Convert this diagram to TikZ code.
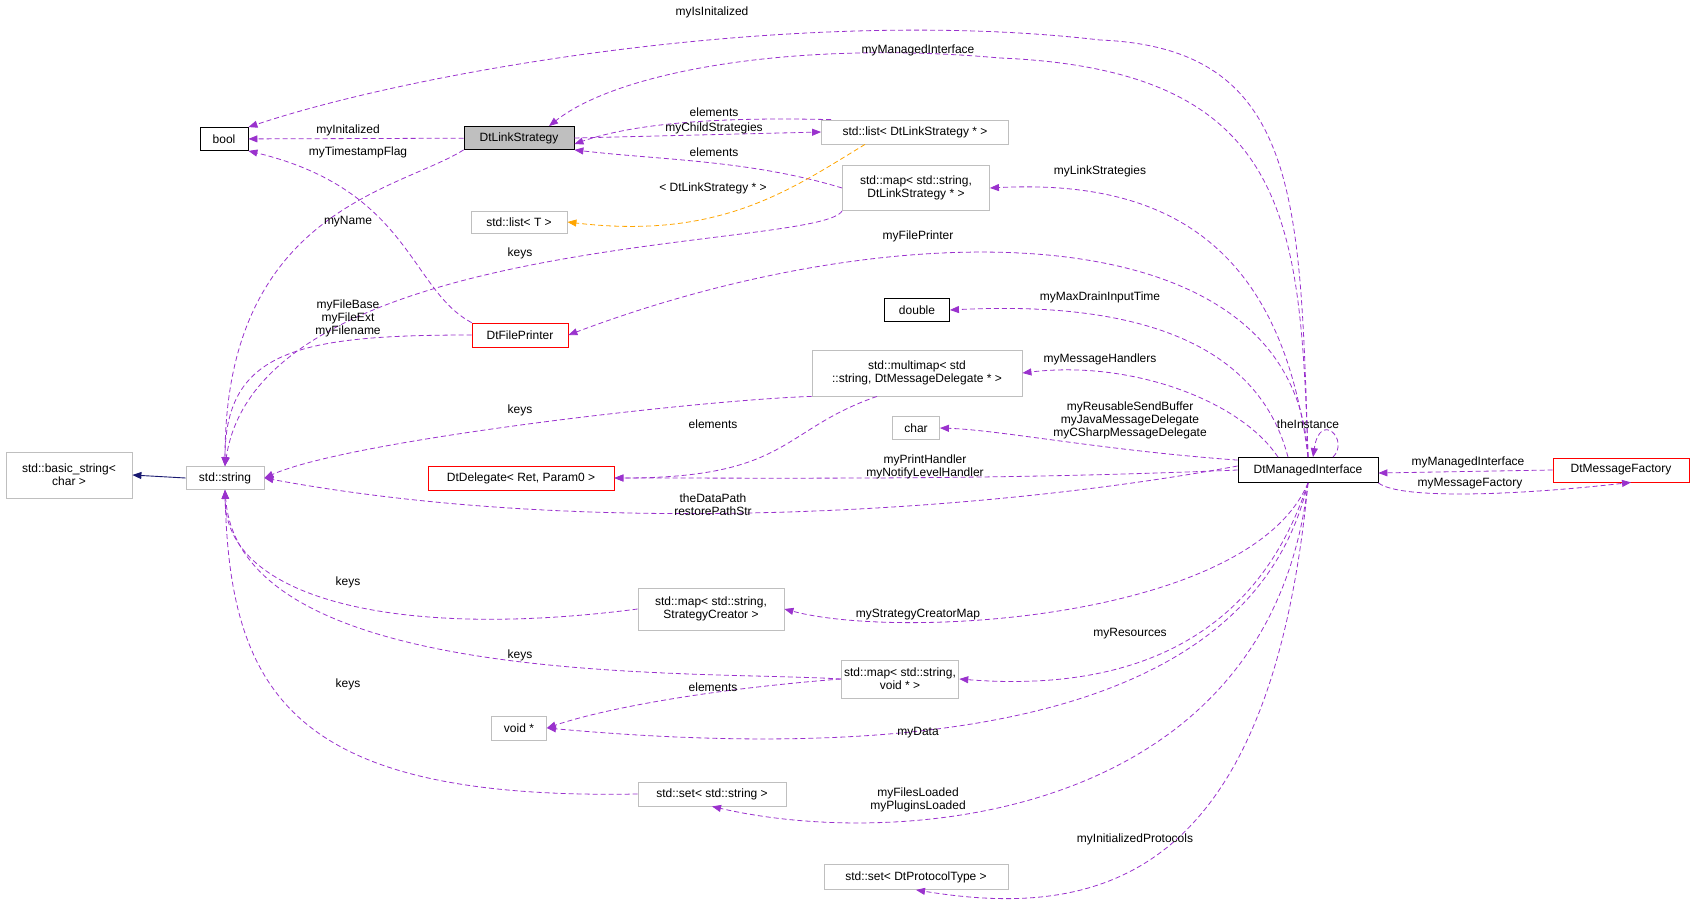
\documentclass[tikz,border=0pt]{standalone}
\usepackage{fontspec}
\setmainfont{Liberation Sans}
\usetikzlibrary{arrows.meta}
\definecolor{dpurple}{HTML}{9A32CD}
\definecolor{dorange}{HTML}{FFA500}
\definecolor{dnavy}{HTML}{191970}
\definecolor{dgray}{HTML}{BFBFBF}
\begin{document}
\begin{tikzpicture}[x=1pt,y=-1pt,
  box/.style={draw=dgray,line width=0.8pt,inner sep=3pt,font=\fontsize{12}{13}\selectfont,align=center,fill=white},
  bbox/.style={box,draw=black},
  rbox/.style={box,draw=red},
  dep/.style={draw=dpurple,dashed,dash pattern=on 5pt off 3pt,line width=0.8pt,-{Triangle[length=9pt,width=7pt]}},
  tmpl/.style={dep,draw=dorange},
  inh/.style={draw=dnavy,line width=0.9pt,-{Triangle[length=9pt,width=7pt]}},
  lab/.style={font=\fontsize{12}{13}\selectfont,align=center,inner sep=0pt}]
\useasboundingbox (0,0) rectangle (1693,902);
\node[bbox,minimum width=48pt,minimum height=23pt] (bool) at (224,139) {bool};
\node[bbox,fill=dgray,minimum width=110pt,minimum height=23pt] (dls) at (519,138) {DtLinkStrategy};
\node[box,minimum width=187pt,minimum height=24pt] (lst) at (915,132) {std::list< DtLinkStrategy * >};
\node[box,minimum width=147pt,minimum height=45pt] (mapls) at (916,188) {std::map< std::string,\\DtLinkStrategy * >};
\node[box,minimum width=96pt,minimum height=22pt] (listT) at (519,222) {std::list< T >};
\node[rbox,minimum width=96pt,minimum height=24pt] (fp) at (520,335) {DtFilePrinter};
\node[bbox,minimum width=65pt,minimum height=23pt] (dbl) at (917,310) {double};
\node[box,minimum width=210pt,minimum height=46pt] (mm) at (917,373) {std::multimap< std\\::string, DtMessageDelegate * >};
\node[box,minimum width=47pt,minimum height=23pt] (chr) at (916,428) {char};
\node[rbox,minimum width=186pt,minimum height=24pt] (dd) at (521,478) {DtDelegate< Ret, Param0 >};
\node[box,minimum width=126pt,minimum height=46pt] (bs) at (69,475) {std::basic\_string<\\char >};
\node[box,minimum width=78pt,minimum height=23pt] (str) at (225,478) {std::string};
\node[bbox,minimum width=140pt,minimum height=25pt] (mi) at (1308,470) {DtManagedInterface};
\node[rbox,minimum width=136pt,minimum height=24pt] (mf) at (1621,470) {DtMessageFactory};
\node[box,minimum width=146pt,minimum height=42pt] (smc) at (711,609) {std::map< std::string,\\StrategyCreator >};
\node[box,minimum width=117pt,minimum height=38pt] (mv) at (900,679) {std::map< std::string,\\void * >};
\node[box,minimum width=55pt,minimum height=24pt] (vd) at (519,728) {void *};
\node[box,minimum width=148pt,minimum height=24pt] (ss) at (712,794) {std::set< std::string >};
\node[box,minimum width=184pt,minimum height=25pt] (sdp) at (916,877) {std::set< DtProtocolType >};

\coordinate (c1) at (1100,40);
\draw[dep] (mi.north) .. controls (1300,200) and (1300,48) .. (c1) .. controls (800,5) and (420,70) .. (bool.north east);
\coordinate (c2) at (1000,58);
\draw[dep] (mi.north) .. controls (1300,220) and (1290,70) .. (c2) .. controls (800,40) and (620,70) .. ([xshift=30pt]dls.north);
\draw[dep] (dls) -- (bool);
\draw[dep] ([xshift=10pt]lst.north west) .. controls (760,118) and (650,118) .. ([yshift=-6pt]dls.east);
\draw[dep] (dls.east) -- (lst.west);
\draw[dep] (mapls.west) .. controls (750,160) and (660,160) .. (dls.south east);
\draw[dep] (fp.north west) .. controls (410,290) and (410,190) .. (bool.south east);
\draw[tmpl] ([xshift=-50pt]lst.south) .. controls (790,190) and (720,240) .. (listT.east);
\draw[dep] (dls.south west) .. controls (400,190) and (225,210) .. (str.north);
\draw[dep] (mapls.south west) .. controls (820,250) and (260,230) .. (str.north);
\draw[dep] (mi.north) .. controls (1280,230) and (1150,180) .. (mapls.east);
\draw[dep] (mi.north) .. controls (1295,210) and (900,210) .. (fp.east);
\draw[dep] (fp.west) .. controls (300,335) and (225,350) .. (str.north);
\draw[dep] ([xshift=-20pt]mi.north) .. controls (1260,350) and (1150,300) .. (dbl.east);
\draw[dep] ([xshift=-30pt]mi.north) .. controls (1240,400) and (1130,360) .. (mm.east);
\draw[dep] (mm.south west) .. controls (700,400) and (350,440) .. (str.east);
\draw[dep] ([xshift=-40pt]mm.south) .. controls (780,430) and (790,478) .. (dd.east);
\draw[dep] ([yshift=-3pt]mi.north west) .. controls (1100,450) and (1000,430) .. (chr.east);
\draw[dep] ([xshift=25pt]mi.north) .. controls (1350,440) and (1320,410) .. ([xshift=5pt]mi.north);
\draw[dep] (mi.west) .. controls (1000,480) and (800,478) .. (dd.east);
\draw[dep] ([yshift=4pt]mi.west) .. controls (1000,510) and (600,540) .. (str.east);
\draw[dep] (mf.west) -- ([yshift=-3pt]mi.east);
\draw[dep] (mi.south east) .. controls (1400,500) and (1520,495) .. ([xshift=10pt]mf.south);
\draw[inh] (str.west) -- (bs.east);
\draw[dep] (smc.west) .. controls (400,640) and (225,600) .. (str.south);
\draw[dep] (mi.south) .. controls (1250,620) and (900,640) .. (smc.east);
\draw[dep] (mv.west) .. controls (700,670) and (240,690) .. (str.south);
\draw[dep] (mi.south) .. controls (1250,660) and (1100,690) .. (mv.east);
\draw[dep] (mv.west) .. controls (700,690) and (600,710) .. (vd.east);
\draw[dep] (mi.south) .. controls (1250,730) and (900,760) .. (vd.east);
\draw[dep] (ss.west) .. controls (300,800) and (230,700) .. (str.south);
\draw[dep] (mi.south) .. controls (1270,820) and (900,850) .. (ss.south);
\draw[dep] (mi.south) .. controls (1270,880) and (1100,920) .. (sdp.south);

\node[lab] (l1) at (712,12) {myIsInitalized};
\node[lab] (l2) at (918,50) {myManagedInterface};
\node[lab] (l3) at (348,130) {myInitalized};
\node[lab] (l4) at (714,112) {elements};
\node[lab] (l5) at (714,128) {myChildStrategies};
\node[lab] (l6) at (714,152) {elements};
\node[lab] (l7) at (358,152) {myTimestampFlag};
\node[lab] (l8) at (713,188) {< DtLinkStrategy * >};
\node[lab] (l9) at (348,222) {myName};
\node[lab] (l10) at (520,253) {keys};
\node[lab] (l11) at (1100,171) {myLinkStrategies};
\node[lab] (l12) at (918,236) {myFilePrinter};
\node[lab] (l13) at (348,318) {myFileBase\\myFileExt\\myFilename};
\node[lab] (l14) at (1100,297) {myMaxDrainInputTime};
\node[lab] (l15) at (1100,359) {myMessageHandlers};
\node[lab] (l16) at (520,410) {keys};
\node[lab] (l17) at (713,424) {elements};
\node[lab] (l18) at (1130,420) {myReusableSendBuffer\\myJavaMessageDelegate\\myCSharpMessageDelegate};
\node[lab] (l19) at (1308,424) {theInstance};
\node[lab] (l20) at (925,467) {myPrintHandler\\myNotifyLevelHandler};
\node[lab] (l21) at (713,505) {theDataPath\\restorePathStr};
\node[lab] (l22) at (1468,462) {myManagedInterface};
\node[lab] (l23) at (1470,484) {myMessageFactory};
\node[lab] (l24) at (348,582) {keys};
\node[lab] (l25) at (918,615) {myStrategyCreatorMap};
\node[lab] (l26) at (520,655) {keys};
\node[lab] (l27) at (1130,634) {myResources};
\node[lab] (l28) at (713,687) {elements};
\node[lab] (l29) at (918,733) {myData};
\node[lab] (l30) at (348,684) {keys};
\node[lab] (l31) at (918,800) {myFilesLoaded\\myPluginsLoaded};
\node[lab] (l32) at (1135,839) {myInitializedProtocols};
\end{tikzpicture}
\end{document}
